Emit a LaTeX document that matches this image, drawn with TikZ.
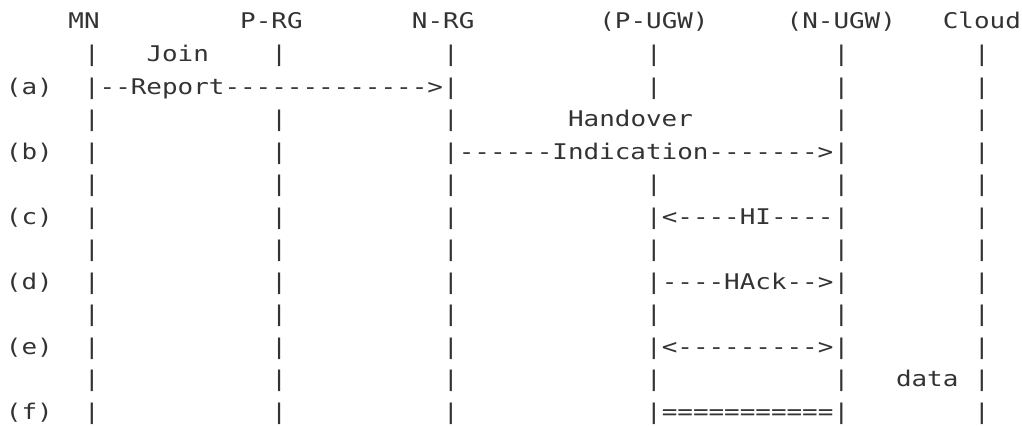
\documentclass[tikz,border=0pt]{standalone}
\usepackage{fontspec}
\newfontfamily\asciifont[FakeStretch=1.2,Ligatures=TeXOff]{DejaVu Sans Mono}
\definecolor{ink}{HTML}{333333}

\begin{document}
\begin{tikzpicture}[x=7.807pt, y=-16.27pt]
\tikzstyle{cell}=[anchor=base west, inner sep=0pt, outer sep=0pt, text=ink, font=\asciifont\fontsize{10.8pt}{13pt}\selectfont]
\useasboundingbox (-0.384,-0.891) rectangle (65.07,12.17);

% entities
\node[cell] (mn) at (4,0) {MN};
\node[cell] (prg) at (15,0) {P-RG};
\node[cell] (nrg) at (26,0) {N-RG};
\node[cell] (pugw) at (38,0) {(P-UGW)};
\node[cell] (nugw) at (50,0) {(N-UGW)};
\node[cell] (cloud) at (60,0) {Cloud};

% life lines
\foreach \c/\rows in {5/{1,...,12}, 17/{1,3,4,...,12}, 28/{1,...,12}, 41/{1,2,5,6,...,12}, 53/{1,...,12}, 62/{1,...,12}}
  \foreach \r in \rows
    \node[cell] (l\c-\r) at (\c,\r) {|};

% steps
\foreach \r/\t in {2/a,4/b,6/c,8/d,10/e,12/f}
  \node[cell] (lbl-\t) at (0,\r) {(\t)};

\node[cell] (join) at (9,1) {Join};
\node[cell] (report) at (6,2) {--Report-------------{>}};
\node[cell] (handover) at (36,3) {Handover};
\node[cell] (indication) at (29,4) {------Indication------->};
\node[cell] (hi) at (42,6) {<----HI----};
\node[cell] (hack) at (42,8) {----HAck-->};
\node[cell] (tunnel) at (42,10) {<--------->};
\node[cell] (data) at (57,11) {data};
\node[cell] (flow) at (42,12) {===========};

\end{tikzpicture}
\end{document}
